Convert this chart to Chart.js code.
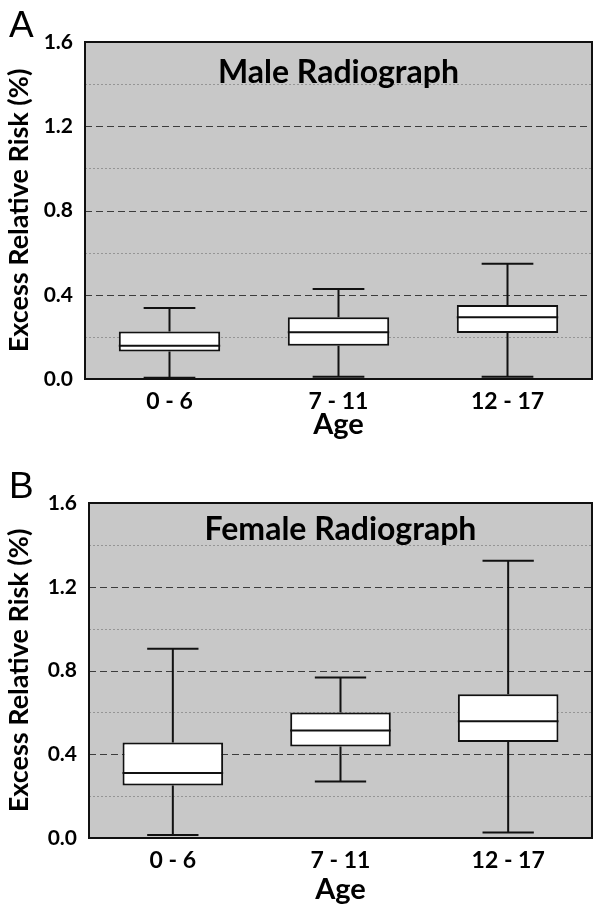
<!DOCTYPE html>
<html lang="en">
  <head>
    <meta charset="UTF-8" />
    <title>Excess Relative Risk by Age</title>
    <script src="https://cdn.jsdelivr.net/npm/chart.js"></script>
    <style>
      body {
        margin: 0;
        background: #ffffff;
      }
      .panel {
        position: relative;
        width: 602px;
        height: 459px;
      }
    </style>
  </head>
  <body>
    <div class="panel"><canvas id="maleChart"></canvas></div>
    <div class="panel"><canvas id="femaleChart"></canvas></div>

    <script>
      const categories = ['0 - 6', '7 - 11', '12 - 17'];

      const maleMin = [0.006, 0.011, 0.011];
      const maleQ1 = [0.130, 0.158, 0.218];
      const maleMedian = [0.158, 0.222, 0.293];
      const maleQ3 = [0.225, 0.293, 0.351];
      const maleMax = [0.337, 0.427, 0.547];

      const femaleMin = [0.014, 0.270, 0.026];
      const femaleQ1 = [0.251, 0.437, 0.459];
      const femaleMedian = [0.311, 0.514, 0.558];
      const femaleQ3 = [0.456, 0.600, 0.686];
      const femaleMax = [0.904, 0.767, 1.324];

      const majorTicks = [0.4, 0.8, 1.2];
      const minorTicks = [0.2, 0.6, 1.0, 1.4];

      Chart.defaults.font.family = 'Lato, sans-serif';
      Chart.defaults.color = '#000';

      // grey plot area, grid lines, whiskers, medians and frame
      const boxPlot = {
        id: 'boxPlot',
        beforeDraw(chart) {
          const { ctx, chartArea: a } = chart;
          ctx.save();
          ctx.fillStyle = '#c8c8c8';
          ctx.fillRect(a.left, a.top, a.right - a.left, a.bottom - a.top);
          ctx.restore();
        },
        beforeDatasetsDraw(chart) {
          const { ctx, chartArea: a, scales } = chart;
          const y = scales.y;
          ctx.save();
          ctx.lineWidth = 1;
          ctx.strokeStyle = '#959595';
          ctx.setLineDash([2, 2]);
          minorTicks.forEach(v => {
            const py = Math.round(y.getPixelForValue(v)) + 0.5;
            ctx.beginPath();
            ctx.moveTo(a.left, py);
            ctx.lineTo(a.right, py);
            ctx.stroke();
          });
          ctx.strokeStyle = '#3c3c3c';
          ctx.setLineDash([7, 4]);
          majorTicks.forEach(v => {
            const py = Math.round(y.getPixelForValue(v)) + 0.5;
            ctx.beginPath();
            ctx.moveTo(a.left, py);
            ctx.lineTo(a.right, py);
            ctx.stroke();
          });
          ctx.restore();
        },
        afterDatasetsDraw(chart) {
          const { ctx, scales } = chart;
          const y = scales.y;
          const s = chart.options.plugins.boxPlot;
          const meta = chart.getDatasetMeta(0);
          ctx.save();
          ctx.strokeStyle = '#111';
          ctx.lineWidth = 2;
          meta.data.forEach((bar, i) => {
            const x = bar.x;
            const cap = bar.width * 0.255;
            const pMin = y.getPixelForValue(s.min[i]);
            const pMax = y.getPixelForValue(s.max[i]);
            const pQ1 = y.getPixelForValue(s.q1[i]);
            const pQ3 = y.getPixelForValue(s.q3[i]);
            const pMed = y.getPixelForValue(s.median[i]);
            ctx.beginPath();
            ctx.moveTo(x, pQ3);
            ctx.lineTo(x, pMax);
            ctx.moveTo(x - cap, pMax);
            ctx.lineTo(x + cap, pMax);
            ctx.moveTo(x, pQ1);
            ctx.lineTo(x, pMin);
            ctx.moveTo(x - cap, pMin);
            ctx.lineTo(x + cap, pMin);
            ctx.moveTo(x - bar.width / 2, pMed);
            ctx.lineTo(x + bar.width / 2, pMed);
            ctx.stroke();
          });
          ctx.restore();
        },
        afterDraw(chart) {
          const { ctx, chartArea: a } = chart;
          const s = chart.options.plugins.boxPlot;
          ctx.save();
          ctx.strokeStyle = '#111';
          ctx.lineWidth = 2;
          ctx.strokeRect(a.left, a.top, a.right - a.left, a.bottom - a.top);

          ctx.fillStyle = '#000';
          ctx.textAlign = 'center';
          ctx.textBaseline = 'alphabetic';
          ctx.font = 'bold 32px Lato, sans-serif';
          ctx.fillText(s.title, (a.left + a.right) / 2, a.top + s.titleOffset);

          ctx.textAlign = 'left';
          ctx.font = '37px "Liberation Sans", Arial, sans-serif';
          ctx.fillText(s.letter, 9, s.letterY);
          ctx.restore();
        }
      };

      function makeChart(id, opts) {
        const ctx = document.getElementById(id).getContext('2d');
        return new Chart(ctx, {
          type: 'bar',
          data: {
            labels: categories,
            datasets: [
              {
                data: categories.map((c, i) => [opts.q1[i], opts.q3[i]]),
                backgroundColor: '#ffffff',
                borderColor: '#111',
                borderWidth: 2,
                borderSkipped: false,
                barPercentage: 0.6,
                categoryPercentage: 1.0
              }
            ]
          },
          options: {
            responsive: true,
            maintainAspectRatio: false,
            animation: false,
            layout: {
              padding: { top: opts.top, right: 10, left: 0, bottom: 0 }
            },
            plugins: {
              legend: { display: false },
              tooltip: { enabled: false },
              boxPlot: opts
            },
            scales: {
              x: {
                grid: { display: false, drawTicks: false },
                border: { display: false },
                ticks: {
                  font: { size: 23, weight: 'bold' },
                  padding: 9
                },
                title: {
                  display: true,
                  text: 'Age',
                  font: { size: 29, weight: 'bold' },
                  padding: { top: opts.agePad, bottom: opts.agePad }
                },
                afterFit(scale) {
                  scale.height = 80;
                }
              },
              y: {
                min: 0,
                max: 1.6,
                grid: { display: false, drawTicks: false },
                border: { display: false },
                ticks: {
                  stepSize: 0.4,
                  font: { size: 21, weight: 'bold' },
                  padding: 12,
                  callback: v => v.toFixed(1)
                },
                title: {
                  display: true,
                  text: 'Excess Relative Risk (%)',
                  font: { size: 27, weight: 'bold' },
                  padding: { top: 3, bottom: 0 }
                },
                afterFit(scale) {
                  scale.width = opts.left;
                }
              }
            }
          },
          plugins: [boxPlot]
        });
      }

      makeChart('maleChart', {
        title: 'Male Radiograph',
        letter: 'A',
        letterY: 37,
        titleOffset: 41,
        top: 42,
        left: 85,
        agePad: 17,
        min: maleMin,
        q1: maleQ1,
        median: maleMedian,
        q3: maleQ3,
        max: maleMax
      });

      makeChart('femaleChart', {
        title: 'Female Radiograph',
        letter: 'B',
        letterY: 39,
        titleOffset: 37,
        top: 44,
        left: 89,
        agePad: 11,
        min: femaleMin,
        q1: femaleQ1,
        median: femaleMedian,
        q3: femaleQ3,
        max: femaleMax
      });
    </script>
  </body>
</html>
